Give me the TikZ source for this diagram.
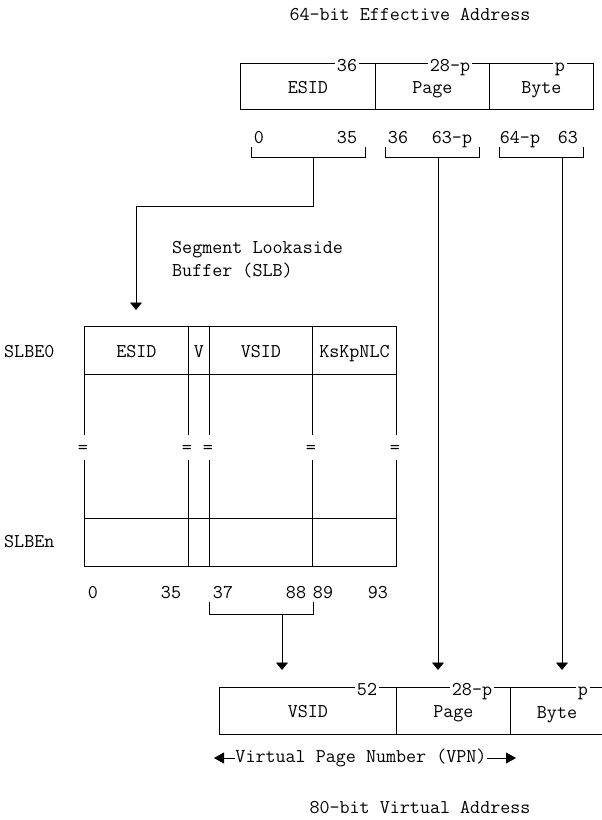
\documentclass[tikz,border=0pt]{standalone}
\usetikzlibrary{arrows.meta}
\begin{document}
\begin{tikzpicture}[x=1pt,y=-1pt,
  every node/.style={font=\ttfamily\fontsize{19.5}{23}\selectfont, inner sep=0pt},
  ln/.style={line width=0.9pt},
  arr/.style={line width=0.9pt,-{Triangle[length=7.5pt,width=12pt]}},
  harr/.style={line width=0.9pt,-{Triangle[length=10pt,width=11pt]}},
  cell/.style={draw,line width=0.9pt,minimum height=46pt,anchor=north west,text height=14pt,text depth=0pt},
  row/.style={draw,line width=0.9pt,minimum height=48pt,anchor=north west},
  lab/.style={fill=white,inner xsep=1.5pt,anchor=base},
  bit/.style={anchor=base}]
\useasboundingbox (0,0) rectangle (602,820);

% ---------- 64-bit effective address ----------
\node (eatitle) at (410,15) {64-bit Effective Address};
\node[cell,minimum width=135pt] (ea-esid) at (240,63) {ESID};
\node[cell,minimum width=114pt] (ea-page) at (375,63) {Page};
\node[cell,minimum width=104pt] (ea-byte) at (489,63) {Byte};
\node[lab] (ea-w1) at (347,71) {36};
\node[lab] (ea-w2) at (450,71) {28-p};
\node[lab] (ea-w3) at (560,71) {p};

\node[bit] (b0)  at (259,143) {0};
\node[bit] (b35) at (347,143) {35};
\node[bit] (b36) at (398,143) {36};
\node[bit] (b63p) at (452,143) {63-p};
\node[bit] (b64p) at (520,143) {64-p};
\node[bit] (b63) at (568,143) {63};

\draw[ln] (251,147) |- (365,157) -- (365,147);
\draw[ln] (385,147) |- (479,157) -- (479,147);
\draw[ln] (499,147) |- (583,157) -- (583,147);
\coordinate (s-esid) at (313,157);
\coordinate (s-page) at (438,157);
\coordinate (s-byte) at (562,157);

% ---------- SLB ----------
\node[anchor=north west,align=left] (slbtitle) at (172,241) {Segment Lookaside\\Buffer (SLB)};
\coordinate (slbin) at (136,310);
\draw[arr] (s-esid) |- (136,206) -- (slbin);

\node[cell,minimum width=104pt,minimum height=48pt] (e0-esid) at (84,326) {ESID};
\node[cell,minimum width=21pt,minimum height=48pt] (e0-v) at (188,326) {V};
\node[cell,minimum width=103pt,minimum height=48pt] (e0-vsid) at (209,326) {VSID};
\node[cell,minimum width=84pt,minimum height=48pt] (e0-flags) at (312,326) {KsKpNLC};
\node[row,minimum width=104pt] (en-esid) at (84,518) {};
\node[row,minimum width=21pt] (en-v) at (188,518) {};
\node[row,minimum width=103pt] (en-vsid) at (209,518) {};
\node[row,minimum width=84pt] (en-flags) at (312,518) {};

\foreach \x/\n in {84/a,188/b,209/c,312/d,396/e}{
  \draw[ln] (\x,374) -- (\x,435);
  \draw[ln] (\x,460) -- (\x,518);
  \node (eq-\n) at (\x-1,449) {=};
}

\node[anchor=base west] (slbe0) at (4,357) {SLBE0};
\node[anchor=base west] (slben) at (4,547) {SLBEn};

\node[bit] (c0)  at (93,598) {0};
\node[bit] (c35) at (171,598) {35};
\node[bit] (c37) at (223,598) {37};
\node[bit] (c88) at (296,598) {88};
\node[bit] (c89) at (323,598) {89};
\node[bit] (c93) at (378,598) {93};
\draw[ln] (209,602) |- (313,614) -- (313,602);
\coordinate (s-vsid) at (282,614);

% ---------- 80-bit virtual address ----------
\node[cell,minimum width=177pt,minimum height=47pt] (va-vsid) at (219,687) {VSID};
\node[cell,minimum width=114pt,minimum height=47pt] (va-page) at (396,687) {Page};
\draw[ln] (602,687) -- (510,687) -- (510,734) -- (602,734);
\node[anchor=base] (va-byte) at (557,718) {Byte};
\node[lab] (va-w1) at (367,695) {52};
\node[lab] (va-w2) at (472,695) {28-p};
\node[lab] (va-w3) at (583,695) {p};

\coordinate (t-vsid) at (282,670);
\coordinate (t-page) at (438,670);
\coordinate (t-byte) at (562,670);
\draw[arr] (s-vsid) -- (t-vsid);
\draw[arr] (s-page) -- (t-page);
\draw[arr] (s-byte) -- (t-byte);

\node (vpn) at (361,758) {Virtual Page Number (VPN)};
\coordinate (vpnl) at (214,758);
\coordinate (vpnr) at (516,758);
\draw[harr] (vpn.west) -- (vpnl);
\draw[harr] (vpn.east) -- (vpnr);

\node (vatitle) at (420,808) {80-bit Virtual Address};
\end{tikzpicture}
\end{document}
